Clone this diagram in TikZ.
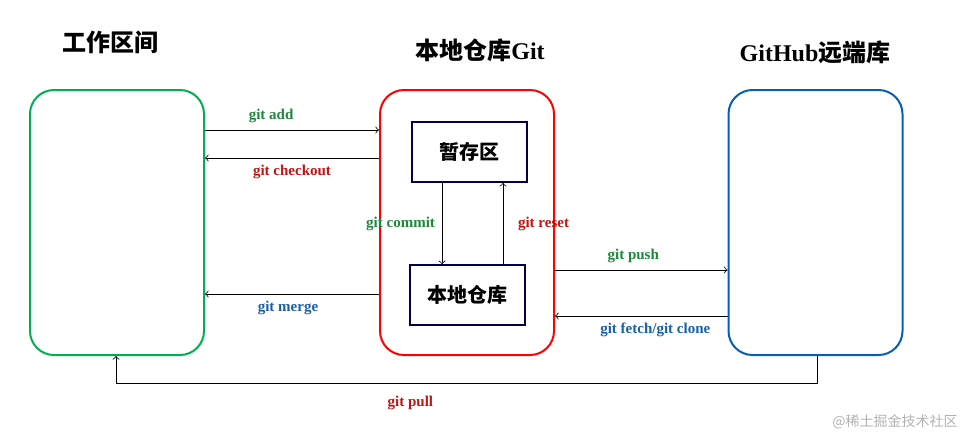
\documentclass[tikz,border=0pt]{standalone}
\usepackage{fontspec}
\setmainfont{Liberation Serif}
\newfontfamily\cjk{Noto Sans CJK SC}
\usetikzlibrary{positioning}
\definecolor{gitgreen}{RGB}{30,135,60}
\definecolor{gitred}{RGB}{190,20,20}
\definecolor{gitblue}{RGB}{25,95,165}
\begin{document}
\begin{tikzpicture}[x=0.5pt,y=-0.5pt,
  area/.style={draw, line width=1pt, rounded corners=12pt, minimum width=87pt, minimum height=132.5pt},
  inner/.style={draw=blue!30!black, line width=0.8pt, minimum width=57.5pt, minimum height=30pt, font=\cjk\bfseries\fontsize{10}{12}\selectfont},
  title/.style={font=\bfseries\fontsize{12}{14}\selectfont},
  lbl/.style={font=\bfseries\fontsize{7.5}{9}\selectfont},
  arr/.style={->, >=to, line width=0.4pt}]
\useasboundingbox (0,0) rectangle (977,446);

\node (work) at (117,222.5) [area, draw={rgb,255:red,0;green,176;blue,80}] {};
\node (repo) at (467,222.5) [area, draw=red] {};
\node (hub) at (815.5,222.5) [area, draw={rgb,255:red,5;green,95;blue,180}] {};
\node (stage) at (469.5,152) [inner] {暂存区};
\node (local) at (467.5,295) [inner] {本地仓库};

\node (T1) at (110,42) [title] {{\cjk 工作区间}};
\node (T2) at (480,50) [title] {{\cjk 本地仓库}Git};
\node (T3) at (815,52) [title] {GitHub{\cjk 远端库}};

\draw [arr] (work.east |- 0,130) -- (repo.west |- 0,130) node[pos=0.38, above, lbl, text=gitgreen] {git add};
\draw [arr] (repo.west |- 0,158) -- (work.east |- 0,158) node[pos=0.5, below, lbl, text=gitred] {git checkout};
\draw [arr] (stage.south -| 442,0) -- (local.north -| 442,0) node[midway, left, lbl, text=gitgreen, xshift=0pt] {git commit};
\draw [arr] (local.north -| 503,0) -- (stage.south -| 503,0) node[midway, right, lbl, text=gitred, xshift=4pt] {git reset};
\draw [arr] (repo.east |- 0,270) -- (hub.west |- 0,270) node[midway, above, lbl, text=gitgreen, xshift=-4pt] {git push};
\draw [arr] (hub.west |- 0,316) -- (repo.east |- 0,316) node[midway, below, lbl, text=gitblue, xshift=7pt] {git fetch/git clone};
\draw [arr] (repo.west |- 0,294) -- (work.east |- 0,294) node[midway, below, lbl, text=gitblue, xshift=-2pt] {git merge};
\draw [arr] (hub.south -| 817,0) -- (817,383) -- (116,383) node[pos=0.58, below=3pt, lbl, text=gitred] {git pull} -- (work.south -| 116,0);

\node (mark) at (895,422) [font=\cjk\fontsize{7}{8}\selectfont, text=black!30] {@稀土掘金技术社区};
\end{tikzpicture}
\end{document}
